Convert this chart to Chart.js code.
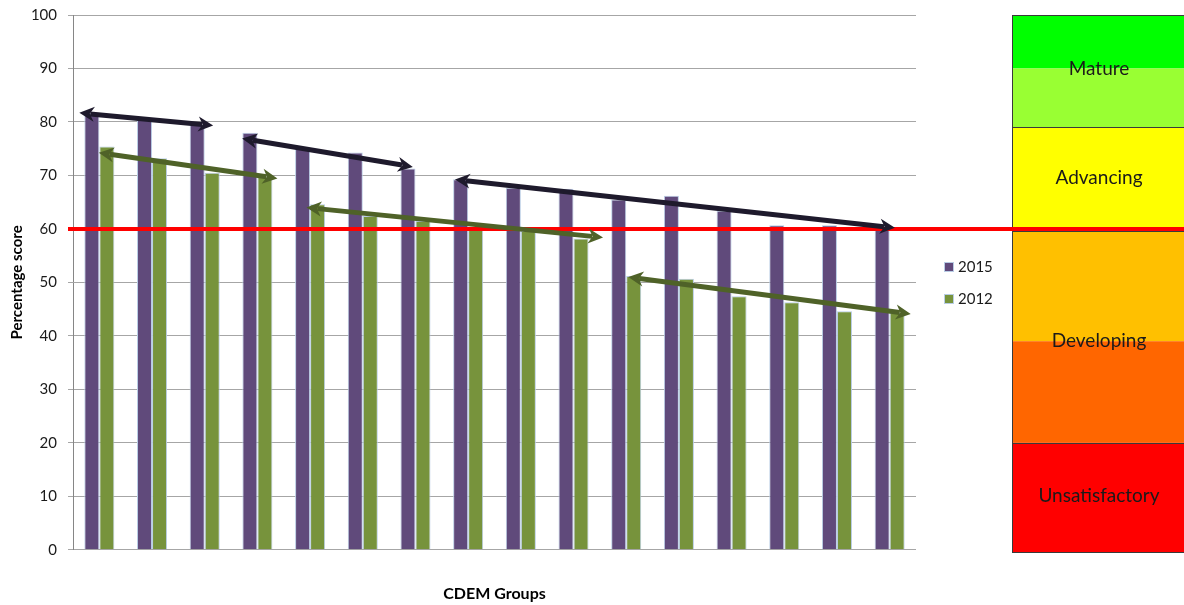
<!DOCTYPE html>
<html><head><meta charset="utf-8">
<script src="https://cdn.jsdelivr.net/npm/chart.js@4.4.0/dist/chart.umd.min.js"></script>
<style>html,body{margin:0;padding:0;background:#fff;}#wrap{width:1184px;height:605px;position:relative;}</style>
</head><body><div id="wrap"><canvas id="c" width="1184" height="605"></canvas></div>
<script>
// ---- data ----
const groups = ['1','2','3','4','5','6','7','8','9','10','11','12','13','14','15','16'];
const scores2015 = [81.6, 80.5, 79.5, 78.0, 75.0, 74.3, 71.3, 69.3, 67.7, 67.5, 65.5, 66.2, 63.4, 60.7, 60.7, 60.0];
const scores2012 = [75.4, 73.2, 70.5, 69.8, 64.6, 62.4, 61.5, 60.2, 59.6, 58.2, 51.2, 50.7, 47.4, 46.3, 44.6, 44.3];
const seriesNames = ['2015', '2012'];
const yTickValues = [0, 10, 20, 30, 40, 50, 60, 70, 80, 90, 100];
const thresholdValue = 60;
// maturity scale panel
const bandEdges = [100, 90, 79, 60, 39, 20, -0.5];
const bandColors = ['#00ff00', '#99ff33', '#ffff00', '#ffc000', '#ff6600', '#ff0000'];
const bandLabels = ['Mature', 'Advancing', 'Developing', 'Unsatisfactory'];
const bandLabelValues = [90, 69.5, 39, 10];
const bandDividers = [79, 60, 20];
// trend arrows: [category index, value] pairs
const trend2015 = [[[-0.38, 81.7], [2.16, 79.35]], [[2.71, 76.9], [5.95, 71.6]], [[6.75, 69.25], [15.10, 60.2]]];
const trend2012 = [[[-0.01, 74.25], [3.38, 69.45]], [[3.93, 64.0], [9.56, 58.4]], [[10.04, 51.0], [15.40, 44.1]]];

const FONT = "Lato, 'Open Sans', 'DejaVu Sans', sans-serif";
const colors = { s2015: '#604a7b', s2012: '#77933c', barBorder: '#b9cde5', arrow2015: '#1e1a2c', arrow2012: '#4f6228' };

function drawArrow(ctx, x1, y1, x2, y2, color) {
  const hl = 15, hw = 7.5, lw = 5;
  const ang = Math.atan2(y2 - y1, x2 - x1);
  const ux = Math.cos(ang), uy = Math.sin(ang);
  ctx.save();
  ctx.strokeStyle = color; ctx.fillStyle = color; ctx.lineWidth = lw; ctx.lineCap = 'butt';
  ctx.beginPath();
  ctx.moveTo(x1 + ux * (hl - 4), y1 + uy * (hl - 4));
  ctx.lineTo(x2 - ux * (hl - 4), y2 - uy * (hl - 4));
  ctx.stroke();
  function head(tx, ty, dx, dy) {
    const bx = tx - dx * hl, by = ty - dy * hl;
    const nx = -dy, ny = dx;
    ctx.beginPath();
    ctx.moveTo(tx, ty);
    ctx.lineTo(bx + nx * hw, by + ny * hw);
    ctx.lineTo(tx - dx * hl * 0.7, ty - dy * hl * 0.7);
    ctx.lineTo(bx - nx * hw, by - ny * hw);
    ctx.closePath();
    ctx.fill();
  }
  head(x2, y2, ux, uy);
  head(x1, y1, -ux, -uy);
  ctx.restore();
}

const overlayPlugin = {
  id: 'overlay',
  afterDatasetsDraw(chart) {
    const ctx = chart.ctx, y = chart.scales.y, x = chart.scales.x, area = chart.chartArea;
    const W = chart.width;
    // maturity panel
    const pl = 1012, pr = W + 2;
    ctx.save();
    for (let i = 0; i < bandColors.length; i++) {
      const t = y.getPixelForValue(bandEdges[i]), b = y.getPixelForValue(bandEdges[i + 1]);
      ctx.fillStyle = bandColors[i];
      ctx.fillRect(pl, t, pr - pl, b - t);
    }
    ctx.strokeStyle = '#3a3a3a'; ctx.lineWidth = 1;
    const pt = Math.round(y.getPixelForValue(bandEdges[0])) + 0.5;
    const pb = Math.round(y.getPixelForValue(bandEdges[bandEdges.length - 1])) + 0.5;
    ctx.strokeRect(pl + 0.5, pt, pr - pl, pb - pt);
    bandDividers.forEach(v => {
      const yy = Math.round(y.getPixelForValue(v)) + (v === thresholdValue ? 2.5 : 0.5);
      ctx.beginPath(); ctx.moveTo(pl, yy); ctx.lineTo(pr, yy); ctx.stroke();
    });
    ctx.fillStyle = '#1a1a1a';
    ctx.font = "19px " + FONT;
    ctx.textAlign = 'center'; ctx.textBaseline = 'middle';
    bandLabels.forEach((t, i) => ctx.fillText(t, (pl + 1184) / 2 + 1, y.getPixelForValue(bandLabelValues[i])));
    // threshold line
    const ty = y.getPixelForValue(thresholdValue);
    ctx.strokeStyle = '#ff0000'; ctx.lineWidth = 4;
    ctx.beginPath(); ctx.moveTo(area.left - 5, ty); ctx.lineTo(W, ty); ctx.stroke();
    ctx.restore();
    // trend arrows
    trend2015.forEach(a => drawArrow(ctx, x.getPixelForValue(a[0][0]), y.getPixelForValue(a[0][1]), x.getPixelForValue(a[1][0]), y.getPixelForValue(a[1][1]), colors.arrow2015));
    trend2012.forEach(a => drawArrow(ctx, x.getPixelForValue(a[0][0]), y.getPixelForValue(a[0][1]), x.getPixelForValue(a[1][0]), y.getPixelForValue(a[1][1]), colors.arrow2012));
  },
  afterDraw(chart) {
    const ctx = chart.ctx;
    ctx.save();
    ctx.font = "15px " + FONT; ctx.textBaseline = 'middle'; ctx.textAlign = 'left';
    chart.data.datasets.forEach((ds, i) => {
      const cy = 267 + i * 32;
      ctx.fillStyle = ds.backgroundColor;
      ctx.fillRect(945, cy - 4, 8, 8);
      ctx.strokeStyle = colors.barBorder; ctx.lineWidth = 1;
      ctx.strokeRect(944.5, cy - 4.5, 9, 9);
      ctx.fillStyle = '#1a1a1a';
      ctx.fillText(ds.label, 958, cy);
    });
    ctx.restore();
  }
};

new Chart(document.getElementById('c'), {
  type: 'bar',
  data: {
    labels: groups,
    datasets: [
      { label: seriesNames[0], data: scores2015, backgroundColor: colors.s2015, borderColor: colors.barBorder, borderWidth: 1 },
      { label: seriesNames[1], data: scores2012, backgroundColor: colors.s2012, borderColor: colors.barBorder, borderWidth: 1 }
    ]
  },
  options: {
    responsive: false, animation: false, devicePixelRatio: 1,
    categoryPercentage: 0.57, barPercentage: 1,
    layout: { padding: { left: 5, right: 268, top: 15, bottom: 0 } },
    plugins: { legend: { display: false }, tooltip: { enabled: false } },
    scales: {
      x: {
        ticks: { display: false },
        grid: { display: false, drawTicks: false, tickLength: 0 },
        border: { display: false },
        title: { display: true, text: 'CDEM Groups', color: '#000', font: { family: FONT, size: 16, weight: 'bold' }, padding: { top: 34, bottom: 2 } }
      },
      y: {
        min: 0, max: 100,
        afterBuildTicks(s) { s.ticks = yTickValues.map(v => ({ value: v })); },
        afterFit(s) { s.width = 68; s.paddingTop = 5; s.paddingBottom = 5; },
        ticks: { color: '#1a1a1a', font: { family: FONT, size: 15 }, padding: 11 },
        grid: { color: '#a6a6a6', tickLength: 5, lineWidth: 1 },
        border: { color: '#868686' },
        title: { display: true, text: 'Percentage score', color: '#000', font: { family: FONT, size: 15, weight: 'bold' }, padding: { top: 3, bottom: 0 } }
      }
    }
  },
  plugins: [overlayPlugin]
});
</script></body></html>
